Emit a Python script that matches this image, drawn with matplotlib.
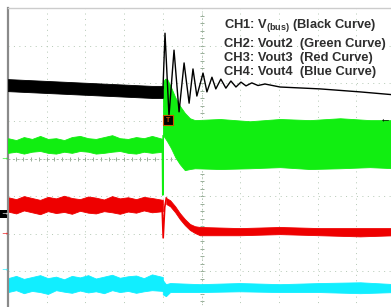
import numpy as np
import matplotlib.pyplot as plt
from matplotlib.patches import Rectangle

plt.rcParams['font.family'] = ['Liberation Sans', 'DejaVu Sans']
plt.rcParams['mathtext.fontset'] = 'custom'
plt.rcParams['mathtext.rm'] = 'Liberation Sans:bold'
plt.rcParams['mathtext.bf'] = 'Liberation Sans:bold'

# scope screen: 10 div across, 8 div high (0 = centre line), values read in divisions
labels = ["CH1: V$_{\\mathbf{(bus)}}$ (Black Curve)",
          "CH2: Vout2  (Green Curve)",
          "CH3: Vout3  (Red Curve)",
          "CH4: Vout4  (Blue Curve)"]
colors = ['#000000', '#11ee11', '#ee0000', '#11eeff']
ref_levels = [-1.48, 0.0, -1.99, -2.97]   # channel ground markers on the left edge
trig_time = 4.0
trig_level = 1.02

# before the load step (noise bands)
t_pre = [0.0, 0.21, 0.41, 0.62, 0.83, 1.03, 1.24, 1.45, 1.65, 1.86,
         2.07, 2.27, 2.48, 2.69, 2.89, 3.10, 3.31, 3.51, 3.72, 4.0]
ch1_pre_hi = [2.11, 2.10, 2.09, 2.08, 2.07, 2.06, 2.05, 2.04, 2.03, 2.02,
              2.01, 2.00, 1.99, 1.98, 1.97, 1.96, 1.95, 1.94, 1.93, 1.93]
ch1_pre_lo = [1.79, 1.78, 1.77, 1.76, 1.75, 1.74, 1.73, 1.72, 1.71, 1.70,
              1.69, 1.68, 1.67, 1.66, 1.65, 1.64, 1.63, 1.62, 1.61, 1.61]
ch2_pre_hi = [0.54, 0.49, 0.57, 0.52, 0.60, 0.52, 0.54, 0.49, 0.57, 0.60,
              0.54, 0.52, 0.57, 0.62, 0.54, 0.52, 0.57, 0.54, 0.60, 0.52]
ch2_pre_lo = [0.15, 0.18, 0.13, 0.18, 0.20, 0.15, 0.13, 0.18, 0.15, 0.20,
              0.18, 0.13, 0.15, 0.18, 0.20, 0.15, 0.13, 0.18, 0.15, 0.18]
ch3_pre_hi = [-1.03, -1.08, -1.00, -1.05, -1.10, -1.02, -1.06, -0.99, -1.05, -1.08,
              -1.01, -1.04, -1.09, -1.00, -1.06, -1.03, -1.08, -1.02, -1.05, -1.10]
ch3_pre_lo = [-1.41, -1.46, -1.38, -1.43, -1.48, -1.40, -1.45, -1.42, -1.47, -1.39,
              -1.44, -1.46, -1.40, -1.43, -1.47, -1.41, -1.44, -1.38, -1.43, -1.40]
ch4_pre_hi = [-3.18, -3.12, -3.20, -3.15, -3.10, -3.18, -3.14, -3.21, -3.12, -3.16,
              -3.10, -3.19, -3.14, -3.09, -3.17, -3.13, -3.11, -3.18, -3.08, -3.15]
ch4_pre_lo = [-3.55, -3.50, -3.58, -3.52, -3.55, -3.60, -3.50, -3.54, -3.57, -3.51,
              -3.56, -3.53, -3.58, -3.50, -3.55, -3.52, -3.57, -3.53, -3.50, -3.52]

# CH1 ringing after the step
ch1_t = [4.005, 4.057, 4.16, 4.29, 4.42, 4.55, 4.68, 4.78, 4.88, 5.04, 5.14, 5.27, 5.37,
         5.50, 5.63, 5.76, 5.89, 6.02, 6.15, 6.30, 6.46, 6.64, 7.03, 8.06, 9.10, 10.0]
ch1_v = [1.87, 3.33, 1.13, 2.88, 1.24, 2.54, 1.47, 2.38, 1.66, 2.27, 1.77, 2.16, 1.85,
         2.11, 1.87, 2.06, 1.90, 2.03, 1.93, 2.01, 1.94, 1.98, 1.90, 1.85, 1.77, 1.69]

# CH2 after the step
ch2_t = [4.005, 4.06, 4.11, 4.21, 4.32, 4.44, 4.57, 4.70, 4.83, 5.48, 6.25, 7.03, 7.80, 8.58, 9.35, 10.0]
ch2_hi = [2.04, 2.12, 2.12, 1.90, 1.63, 1.40, 1.21, 1.07, 1.02, 1.05, 0.99, 1.05, 1.02, 1.07, 1.02, 1.02]
ch2_lo = [0.62, 0.54, 0.46, 0.28, 0.04, -0.15, -0.31, -0.28, -0.26, -0.28, -0.26, -0.23, -0.28, -0.26, -0.23, -0.26]
ch2_spike_t = [3.99, 4.0, 4.01]
ch2_spike_v = [0.37, -0.97, 0.60]

# CH3 after the step
ch3_spike_t = [3.98, 4.01, 4.05, 4.09]
ch3_spike_v = [-1.23, -2.11, -1.30, -1.05]
ch3_t = [4.09, 4.19, 4.32, 4.44, 4.57, 4.70, 4.83, 4.96, 5.99, 7.03, 8.06, 9.10, 10.0]
ch3_hi = [-1.05, -1.11, -1.27, -1.45, -1.61, -1.74, -1.80, -1.82, -1.85, -1.82, -1.85, -1.85, -1.85]
ch3_lo = [-1.21, -1.27, -1.43, -1.61, -1.77, -1.90, -1.98, -2.04, -2.04, -2.01, -2.04, -2.07, -2.04]

# CH4 after the step
ch4_t = [4.0, 4.08, 4.19, 4.96, 5.99, 7.03, 8.06, 9.10, 10.0]
ch4_hi = [-3.23, -3.34, -3.31, -3.34, -3.31, -3.34, -3.31, -3.29, -3.34]
ch4_lo = [-3.61, -3.66, -3.55, -3.55, -3.53, -3.55, -3.55, -3.58, -3.55]

fig = plt.figure(figsize=(3.91, 3.07), dpi=100)
ax = fig.add_axes([8 / 391, -2 / 307, 387 / 391, 301 / 307])
ax.set_xlim(0, 10)
ax.set_ylim(-4, 4)
ax.set_xticks([])
ax.set_yticks([])
for s in ['right', 'bottom']:
    ax.spines[s].set_visible(False)
ax.spines['left'].set_color('#8a8a8a')
ax.spines['left'].set_linewidth(1.6)
ax.spines['top'].set_color('#cccccc')
ax.spines['top'].set_linewidth(1.0)

# graticule
grid_c = '#b4c8b4'
for i in range(1, 10):
    ax.axvline(i, color=grid_c, lw=0.7, ls=(0, (1, 4.6)), zorder=0)
for j in range(-3, 4):
    ax.axhline(j, color=grid_c, lw=0.7, ls=(0, (1, 4.6)), zorder=0)
minor = np.arange(0, 10.01, 0.2)
ax.plot(minor, np.zeros_like(minor), ls='none', marker='|', ms=3, mew=0.7, color='#98ae98', zorder=0)
minor_v = np.arange(-4, 4.01, 0.2)
ax.plot(np.full_like(minor_v, 5.0), minor_v, ls='none', marker='_', ms=3, mew=0.7, color='#98ae98', zorder=0)
ax.axvline(5, color='#a8bca8', lw=0.7, ls=(0, (1, 2.5)), zorder=0)
ax.axhline(0, color='#a8bca8', lw=0.7, ls=(0, (2, 2.5)), zorder=0)

# CH4 (cyan)
ax.fill_between(t_pre, ch4_pre_lo, ch4_pre_hi, color=colors[3], lw=0.6, zorder=2)
ax.fill_between(ch4_t, ch4_lo, ch4_hi, color=colors[3], lw=0.6, zorder=2)

# CH3 (red)
ax.fill_between(t_pre, ch3_pre_lo, ch3_pre_hi, color=colors[2], lw=0.6, zorder=2)
ax.plot(ch3_spike_t, ch3_spike_v, color=colors[2], lw=1.2, zorder=2)
ax.fill_between(ch3_t, ch3_lo, ch3_hi, color=colors[2], lw=0.6, zorder=2)

# CH2 (green)
ax.fill_between(t_pre, ch2_pre_lo, ch2_pre_hi, color=colors[1], lw=0.6, zorder=3)
ax.plot(ch2_spike_t, ch2_spike_v, color=colors[1], lw=1.2, zorder=3)
ax.fill_between(ch2_t, ch2_lo, ch2_hi, color=colors[1], lw=0.6, zorder=3)

# CH1 (black)
ax.fill_between(t_pre, ch1_pre_lo, ch1_pre_hi, color=colors[0], lw=0.6, zorder=4)
ax.plot(ch1_t, ch1_v, color=colors[0], lw=1.0, zorder=4)

# trigger marker
ax.add_patch(Rectangle((trig_time + 0.01, trig_level - 0.13), 0.26, 0.27,
                       facecolor='black', edgecolor='#cc5500', lw=0.8, zorder=5))
ax.text(trig_time + 0.14, trig_level, 'T', color='#cc5500', fontsize=5, fontweight='bold',
        ha='center', va='center', zorder=6)

# channel ground markers on the left edge
for lvl, c in zip(ref_levels, colors):
    y = (lvl + 4) / 8 * (301 / 307) - 2 / 307
    if c == '#000000':
        fig.patches.append(Rectangle((0, y - 0.014), 7 / 391, 0.028, transform=fig.transFigure,
                                     facecolor='black', edgecolor='none'))
        fig.text(0.5 / 391, y, '\u2192', color='white', fontsize=6, fontweight='bold', va='center')
    else:
        fig.text(0.5 / 391, y, '\u2192', color=c, fontsize=6, fontweight='bold', va='center')

# trigger level arrow on the right edge
fig.text(1.0, (trig_level + 0.05 + 4) / 8 * (301 / 307) - 2 / 307, '\u2190', color='black',
         fontsize=8, fontweight='bold', ha='right', va='center')

# channel legend
baselines = [28.3, 46.7, 60.7, 75.0]
for lab, b in zip(labels, baselines):
    fig.text(224 / 391, 1 - b / 307, lab, fontsize=9.3, fontweight='bold', color='#2e2e2e',
             va='baseline', ha='left')

fig.savefig('out.png', dpi=100)
